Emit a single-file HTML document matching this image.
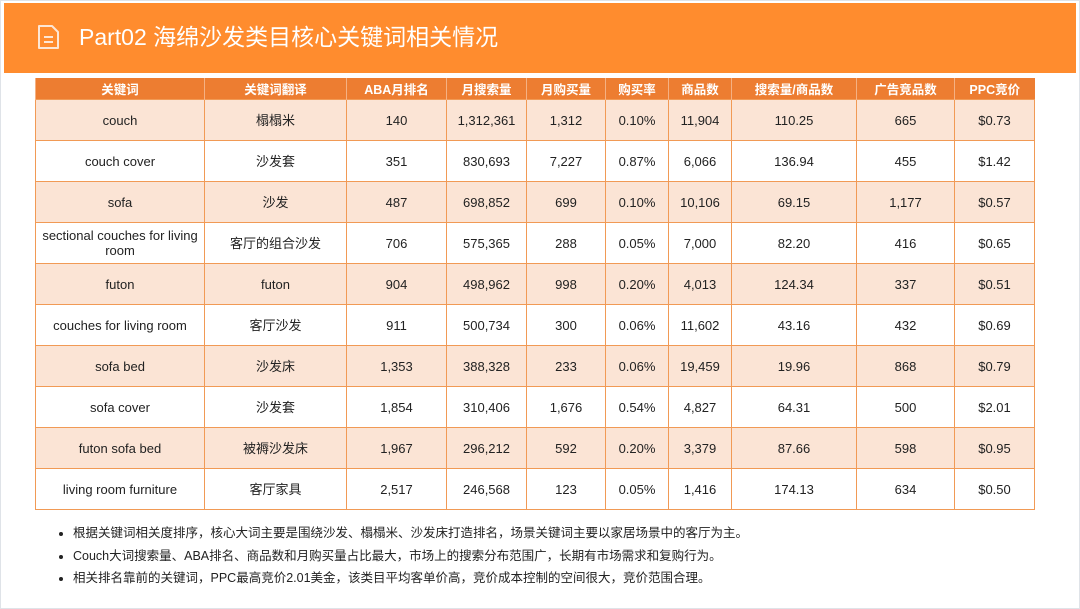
<!DOCTYPE html>
<html><head><meta charset="utf-8"><style>
body{margin:0;width:1080px;height:609px;background:#fff;font-family:"Liberation Sans","Noto Sans CJK SC",sans-serif;position:relative;overflow:hidden}
#frame{position:absolute;left:0;top:0;width:1078px;height:607px;border:1px solid #dfe3e8}
#band{position:absolute;left:4px;top:3px;width:1072px;height:70px;background:#FF8C2E}
#title{position:absolute;left:79px;top:22px;color:#fff;font-size:23px;line-height:30px}
#icon{position:absolute;left:36px;top:24px}
table{position:absolute;left:35px;top:78px;width:999px;border-collapse:collapse;table-layout:fixed;font-size:13px;color:#222}
th{background:#ED7D31;color:#fff;height:21px;font-size:12.5px;font-weight:bold;border-left:1px solid #f5b183;padding:0}
td{height:40px;text-align:center;border:1px solid #F19A55;padding:0 2px;line-height:15px}
tr.o td{background:#FBE4D5}
ul{position:absolute;left:52px;top:522px;margin:0;padding-left:21px;font-size:12.5px;color:#222}
li{height:22.5px;line-height:22px}
</style></head><body>
<div id="frame"></div>
<div id="band"></div>
<svg id="icon" width="26" height="26"><path d="M3 2h13l6 6v16H3z" fill="none" stroke="#fde6d4" stroke-width="2" stroke-linejoin="round"/><path d="M8 13h9M8 18h9" stroke="#fde6d4" stroke-width="2"/></svg>
<div id="title">Part02 海绵沙发类目核心关键词相关情况</div>
<table>
<colgroup><col style="width:169px"><col style="width:142px"><col style="width:100px"><col style="width:80px"><col style="width:79px"><col style="width:63px"><col style="width:63px"><col style="width:125px"><col style="width:98px"><col style="width:80px"></colgroup>
<tr><th>关键词</th><th>关键词翻译</th><th>ABA月排名</th><th>月搜索量</th><th>月购买量</th><th>购买率</th><th>商品数</th><th>搜索量/商品数</th><th>广告竞品数</th><th>PPC竞价</th></tr>
<tr class="o"><td>couch</td><td>榻榻米</td><td>140</td><td>1,312,361</td><td>1,312</td><td>0.10%</td><td>11,904</td><td>110.25</td><td>665</td><td>$0.73</td></tr>
<tr><td>couch cover</td><td>沙发套</td><td>351</td><td>830,693</td><td>7,227</td><td>0.87%</td><td>6,066</td><td>136.94</td><td>455</td><td>$1.42</td></tr>
<tr class="o"><td>sofa</td><td>沙发</td><td>487</td><td>698,852</td><td>699</td><td>0.10%</td><td>10,106</td><td>69.15</td><td>1,177</td><td>$0.57</td></tr>
<tr><td>sectional couches for living room</td><td>客厅的组合沙发</td><td>706</td><td>575,365</td><td>288</td><td>0.05%</td><td>7,000</td><td>82.20</td><td>416</td><td>$0.65</td></tr>
<tr class="o"><td>futon</td><td>futon</td><td>904</td><td>498,962</td><td>998</td><td>0.20%</td><td>4,013</td><td>124.34</td><td>337</td><td>$0.51</td></tr>
<tr><td>couches for living room</td><td>客厅沙发</td><td>911</td><td>500,734</td><td>300</td><td>0.06%</td><td>11,602</td><td>43.16</td><td>432</td><td>$0.69</td></tr>
<tr class="o"><td>sofa bed</td><td>沙发床</td><td>1,353</td><td>388,328</td><td>233</td><td>0.06%</td><td>19,459</td><td>19.96</td><td>868</td><td>$0.79</td></tr>
<tr><td>sofa cover</td><td>沙发套</td><td>1,854</td><td>310,406</td><td>1,676</td><td>0.54%</td><td>4,827</td><td>64.31</td><td>500</td><td>$2.01</td></tr>
<tr class="o"><td>futon sofa bed</td><td>被褥沙发床</td><td>1,967</td><td>296,212</td><td>592</td><td>0.20%</td><td>3,379</td><td>87.66</td><td>598</td><td>$0.95</td></tr>
<tr><td>living room furniture</td><td>客厅家具</td><td>2,517</td><td>246,568</td><td>123</td><td>0.05%</td><td>1,416</td><td>174.13</td><td>634</td><td>$0.50</td></tr>
</table>
<ul>
<li>根据关键词相关度排序，核心大词主要是围绕沙发、榻榻米、沙发床打造排名，场景关键词主要以家居场景中的客厅为主。</li>
<li>Couch大词搜索量、ABA排名、商品数和月购买量占比最大，市场上的搜索分布范围广，长期有市场需求和复购行为。</li>
<li>相关排名靠前的关键词，PPC最高竞价2.01美金，该类目平均客单价高，竞价成本控制的空间很大，竞价范围合理。</li>
</ul>
</body></html>
